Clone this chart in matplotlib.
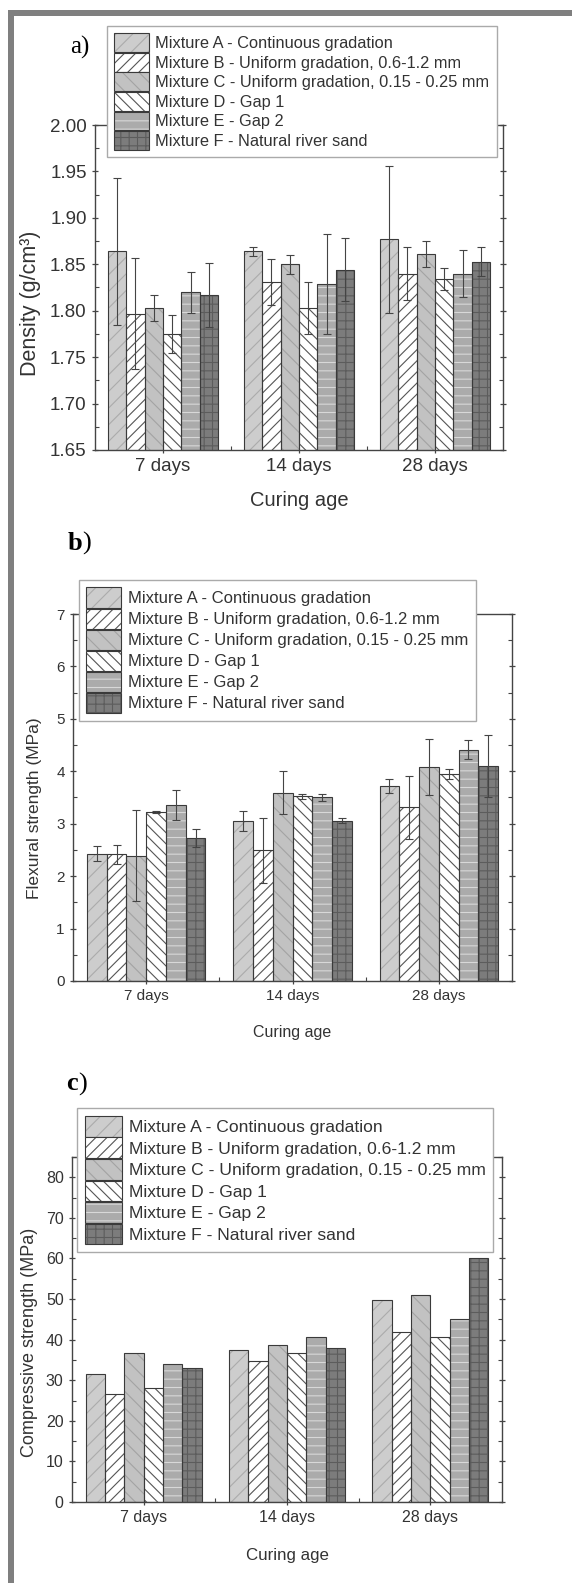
import numpy as np
import matplotlib
matplotlib.use('Agg')
import matplotlib.pyplot as plt
from matplotlib.patches import Patch, Rectangle
from matplotlib.ticker import MultipleLocator, FixedLocator, FormatStrFormatter
from matplotlib.legend_handler import HandlerTuple

plt.rcParams['font.family'] = ['Liberation Sans', 'DejaVu Sans']
plt.rcParams['hatch.linewidth'] = 0.8

'''data read off the three panels'''
ages = ['7 days', '14 days', '28 days']
mixtures = ['Mixture A - Continuous gradation',
            'Mixture B - Uniform gradation, 0.6-1.2 mm',
            'Mixture C - Uniform gradation, 0.15 - 0.25 mm',
            'Mixture D - Gap 1',
            'Mixture E - Gap 2',
            'Mixture F - Natural river sand']

# a) density, rows = mixtures A..F, cols = 7/14/28 days
density = [[1.864, 1.864, 1.877],
           [1.797, 1.831, 1.840],
           [1.803, 1.850, 1.861],
           [1.775, 1.803, 1.834],
           [1.820, 1.829, 1.840],
           [1.817, 1.844, 1.853]]
density_err = [[0.079, 0.005, 0.079],
               [0.060, 0.025, 0.029],
               [0.014, 0.010, 0.014],
               [0.020, 0.028, 0.012],
               [0.022, 0.054, 0.025],
               [0.034, 0.034, 0.016]]

# b) flexural strength
flexural = [[2.43, 3.05, 3.72],
            [2.42, 2.49, 3.31],
            [2.39, 3.59, 4.08],
            [3.23, 3.52, 3.95],
            [3.36, 3.50, 4.41],
            [2.72, 3.06, 4.10]]
flexural_err = [[0.15, 0.19, 0.13],
                [0.18, 0.62, 0.60],
                [0.87, 0.41, 0.54],
                [0.02, 0.05, 0.10],
                [0.28, 0.07, 0.18],
                [0.17, 0.05, 0.60]]

# c) compressive strength (no error bars)
compressive = [[31.5, 37.4, 49.7],
               [26.7, 34.8, 41.9],
               [36.7, 38.8, 50.9],
               [28.1, 36.8, 40.7],
               [34.1, 40.7, 45.0],
               [32.9, 38.0, 60.0]]

# look of each mixture: face, hatch, hatch colour
faces = ['#cdcdcd', 'white', '#c2c2c2', 'white', '#ababab', '#7c7c7c']
hatches = ['//', '///', '\\\\', '\\\\\\', '--', '++']
hatch_cols = ['#ababab', '#555555', '#a3a3a3', '#555555', '#d8d8d8', '#5c5c5c']

W, H = 572, 1583
fig = plt.figure(figsize=(W / 100, H / 100), dpi=100)
txt = '#333333'


def box(l, t, r, b):
    return [l / W, 1 - b / H, (r - l) / W, (b - t) / H]


def panel(pos, vals, errs, ylim, major, minor, ylabel, fs, yfs, xfs,
          leg_xy, leg_fs, leg_hh, lab_xy, xlab_y):
    ax = fig.add_axes(box(*pos))
    x = np.arange(1, len(ages) + 1)
    w = 0.135
    handles = []
    for i in range(len(mixtures)):
        xs = x + (i - 2.5) * w
        ax.bar(xs, vals[i], w, color=faces[i], hatch=hatches[i],
               edgecolor=hatch_cols[i], linewidth=0, zorder=2)
        ax.bar(xs, vals[i], w, fill=False, edgecolor='#3a3a3a', linewidth=0.8, zorder=3)
        if errs is not None:
            ax.errorbar(xs, vals[i], yerr=errs[i], fmt='none', ecolor='#444444',
                        elinewidth=0.8, capsize=3, capthick=0.8, zorder=4)
        handles.append((Patch(facecolor=faces[i], hatch=hatches[i],
                              edgecolor=hatch_cols[i], linewidth=0),
                        Patch(fill=False, edgecolor='#3a3a3a', linewidth=0.8)))
    ax.set_xlim(0.5, 3.5)
    ax.set_ylim(*ylim)
    ax.set_xticks(x)
    ax.set_xticklabels(ages)
    ax.xaxis.set_minor_locator(FixedLocator([1.5, 2.5]))
    ax.yaxis.set_major_locator(MultipleLocator(major))
    ax.yaxis.set_minor_locator(MultipleLocator(minor))
    ax.tick_params(axis='both', which='major', labelsize=fs, colors='#444444',
                   labelcolor=txt, length=5, width=0.9, direction='inout')
    ax.tick_params(axis='both', which='minor', length=3, width=0.8,
                   colors='#444444', direction='in')
    ax.tick_params(axis='y', which='both', right=True)
    for s in ax.spines.values():
        s.set_color('#444444')
        s.set_linewidth(1.0)
    ax.set_ylabel(ylabel, fontsize=yfs, color=txt)
    ax.yaxis.set_label_coords(*lab_xy)
    ax.set_xlabel('Curing age', fontsize=xfs, color=txt, va='center')
    ax.xaxis.set_label_coords(0.5, xlab_y)
    if ylim[0] > 0:
        ax.yaxis.set_major_formatter(FormatStrFormatter('%.2f'))
    leg = fig.legend(handles, mixtures, loc='upper left',
                     bbox_to_anchor=(leg_xy[0] / W, 1 - leg_xy[1] / H),
                     bbox_transform=fig.transFigure, fontsize=leg_fs,
                     frameon=True, fancybox=False, framealpha=1, borderaxespad=0,
                     edgecolor='#aaaaaa', borderpad=0.45, labelspacing=0.05,
                     handlelength=2.1, handleheight=leg_hh, handletextpad=0.4,
                     handler_map={tuple: HandlerTuple(ndivide=1)})
    leg.get_frame().set_linewidth(1.0)
    for t in leg.get_texts():
        t.set_color(txt)
    return ax


panel((95, 125, 503, 450), density, density_err, (1.65, 2.0), 0.05, 0.025,
      'Density (g/cm³)', 13.5, 15.5, 14.5, (107, 26), 11.8, 1.38, (-0.133, 0.452), -0.154)
panel((73, 614, 512, 981), flexural, flexural_err, (0, 7), 1, 0.5,
      'Flexural strength (MPa)', 11, 12.5, 11.5, (79, 580), 12, 1.49, (-0.071, 0.47), -0.139)
panel((72, 1157, 502, 1502), compressive, None, (0, 85), 10, 5,
      'Compressive strength (MPa)', 11.5, 13, 12.2, (77, 1108), 12.6, 1.44, (-0.080, 0.464), -0.154)

# panel letters
fig.text(80 / W, 1 - 47 / H, 'a)', family='Liberation Serif', fontsize=18,
         ha='center', va='center', color='black')
for letter, xc, yc in [('b', 82, 543), ('c', 78, 1084)]:
    fig.text(xc / W, 1 - yc / H, letter, family='Liberation Serif', fontsize=19,
             fontweight='bold', ha='right', va='center', color='black')
    fig.text(xc / W, 1 - yc / H, ')', family='Liberation Serif', fontsize=19,
             ha='left', va='center', color='black')

# grey frame on top and left edge
fig.add_artist(Rectangle((8 / W, 1 - 16 / H), 1, 6 / H, transform=fig.transFigure,
                         color='#7f7f7f', lw=0))
fig.add_artist(Rectangle((8 / W, 0), 6 / W, 1 - 10 / H, transform=fig.transFigure,
                         color='#7f7f7f', lw=0))

fig.savefig('out.png', dpi=100)
